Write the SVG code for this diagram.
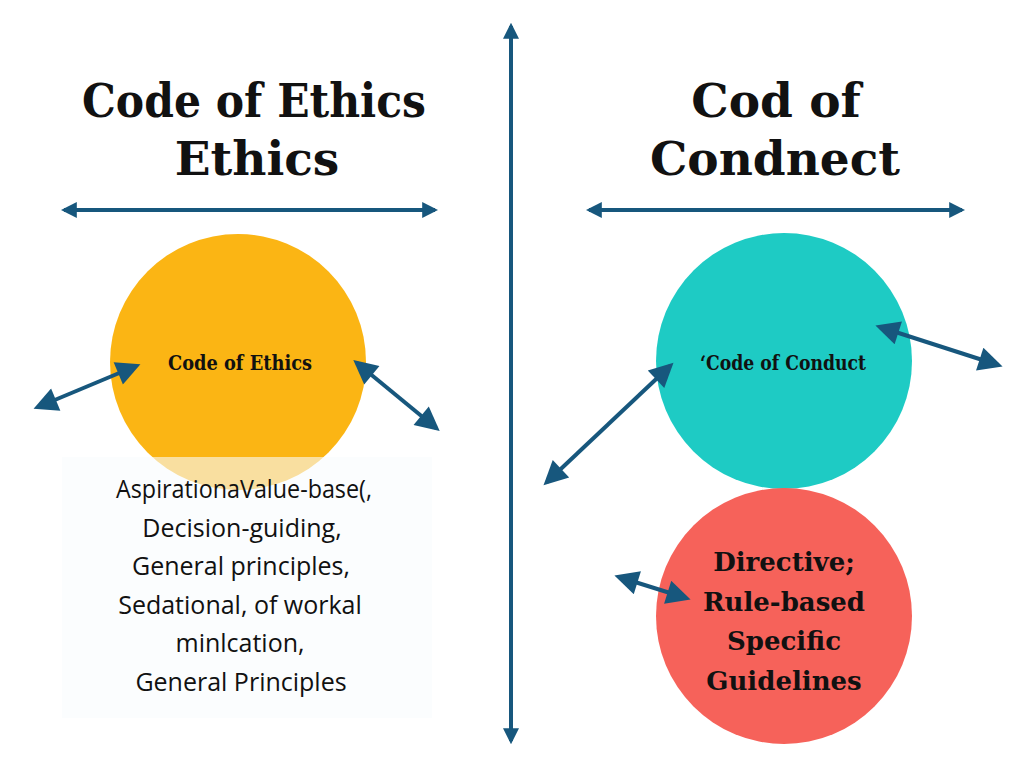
<svg xmlns="http://www.w3.org/2000/svg" width="1024" height="768" viewBox="0 0 1024 768">
<defs>
<marker id="ah" viewBox="0 0 10 10" refX="8" refY="5" markerWidth="6.5" markerHeight="6" orient="auto-start-reverse" markerUnits="strokeWidth">
<path d="M0,0 L10,5 L0,10 Z" fill="#17577d"/>
</marker>
<marker id="ahs" viewBox="0 0 10 10" refX="8" refY="5" markerWidth="4" markerHeight="4" orient="auto-start-reverse" markerUnits="strokeWidth">
<path d="M0,0 L10,5 L0,10 Z" fill="#17577d"/>
</marker>
<style>
.title{font-family:"DejaVu Serif","Liberation Serif",serif;font-weight:bold;font-size:47px;fill:#111;text-anchor:middle}
.lbl{font-family:"DejaVu Serif","Liberation Serif",serif;font-weight:bold;font-size:20px;fill:#111;text-anchor:middle}
.red{font-family:"DejaVu Serif","Liberation Serif",serif;font-weight:bold;font-size:26px;fill:#111;text-anchor:middle}
.body{font-family:"Open Sans","Noto Sans",sans-serif;font-size:25px;fill:#111;text-anchor:middle}
.c{stroke:#17577d;stroke-width:4;fill:none;marker-start:url(#ah);marker-end:url(#ah)}
.rule{stroke:#17577d;stroke-width:4;fill:none;marker-start:url(#ahs);marker-end:url(#ahs)}
</style>
</defs>
<rect width="1024" height="768" fill="#ffffff"/>
<g id="titles">
<text class="title" x="254" y="117" textLength="344" lengthAdjust="spacingAndGlyphs">Code of Ethics</text>
<text class="title" x="257" y="175">Ethics</text>
<text class="title" x="776" y="117">Cod of</text>
<text class="title" x="775" y="175">Condnect</text>
</g>
<g id="node-ethics">
<circle cx="238" cy="362" r="128" fill="#fbb514"/>
<text class="lbl" x="240" y="370" textLength="144" lengthAdjust="spacingAndGlyphs">Code of Ethics</text>
</g>
<g id="node-ethics-list">
<rect x="62" y="457" width="370" height="261" fill="#f8fbfd" fill-opacity="0.6"/>
<text class="body" x="244" y="498" textLength="256" lengthAdjust="spacingAndGlyphs">AspirationaValue-base(,</text>
<text class="body" x="242" y="537">Decision-guiding,</text>
<text class="body" x="241" y="575">General principles,</text>
<text class="body" x="240" y="614">Sedational, of workal</text>
<text class="body" x="240" y="652">minl͏cation,</text>
<text class="body" x="241" y="691">General Principles</text>
</g>
<g id="node-conduct">
<circle cx="784" cy="361" r="128" fill="#1ecbc4"/>
<text class="lbl" x="783" y="370" textLength="166" lengthAdjust="spacingAndGlyphs">‘Code of Conduct</text>
</g>
<g id="node-directive">
<circle cx="784" cy="616" r="128" fill="#f6625a"/>
<text class="red" x="784" y="571">Directive;</text>
<text class="red" x="784" y="611">Rule-based</text>
<text class="red" x="784" y="650">Specific</text>
<text class="red" x="784" y="690">Guidelines</text>
</g>
<g id="connectors">
<line class="rule" x1="511" y1="26" x2="511" y2="741"/>
<line class="rule" x1="64" y1="210" x2="435" y2="210"/>
<line class="rule" x1="589" y1="210" x2="962" y2="210"/>
<line class="c" x1="38" y1="407" x2="136" y2="366"/>
<line class="c" x1="357" y1="363" x2="436" y2="428"/>
<line class="c" x1="547" y1="482" x2="670" y2="366"/>
<line class="c" x1="880" y1="327" x2="998" y2="365"/>
<line class="c" x1="619" y1="577" x2="686" y2="598"/>
</g>
</svg>
